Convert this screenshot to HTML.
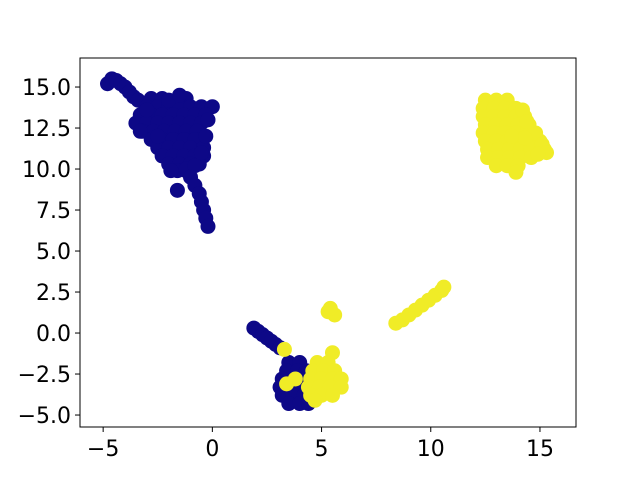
<!DOCTYPE html>
<html><head><meta charset="utf-8"><style>
body{margin:0;background:#fff}
svg{display:block;font-family:"DejaVu Sans","Liberation Sans",sans-serif}
</style></head><body>
<svg id="chart" width="640" height="480" viewBox="0 0 640 480">
<rect width="640" height="480" fill="#fff"/>
<g id="points"></g>
<rect x="80" y="58" width="496" height="369" fill="none" stroke="#000" stroke-width="1"/>
<g id="xticks"></g>
<g id="yticks"></g>
</svg>
<script>
const xTicks=[-5,0,5,10,15];
const yTicks=[15,12.5,10,7.5,5,2.5,0,-2.5,-5];
const blueX=[-4.8,-4.6,-4.4,-4.2,-4.0,-3.8,-3.6,-3.4,-3.0,
-2.8,-2.3,-1.4,-1.2,
-3.0,-2.5,-2.0,-1.5,-1.0,-0.5,0,
-3.3,-2.8,-2.3,-1.8,-1.3,-0.8,-0.3,
-3.5,-3.0,-2.5,-2.0,-1.5,-1.0,-0.5,
-3.2,-2.7,-2.2,-1.7,-1.2,-0.7,
-2.8,-2.3,-1.8,-1.3,-0.8,
-2.5,-2.0,-1.5,-1.0,-0.4,
-2.3,-1.8,-1.3,-0.8,-0.4,
-2.0,-1.5,-1.0,-0.6,
-1.6,-1.2,
-1.2,-0.8,-1.9,-2.5,-3.0,-0.3,-0.2,-0.5,-3.3,-2.0,-1.5,
-1.0,-0.8,-0.6,-0.5,-0.4,-0.3,-0.2,-1.6,
1.9,2.1,2.3,2.5,2.7,2.9,3.1,
3.5,4.0,3.4,3.9,4.3,3.2,3.7,4.2,3.1,3.6,4.1,4.5,3.2,3.7,4.2,3.5,4.0,4.4,4.8];
const blueY=[15.2,15.5,15.4,15.2,15.0,14.7,14.4,14.2,14.0,
14.3,14.3,14.3,14.3,
13.8,13.8,13.8,13.8,13.8,13.8,13.8,
13.3,13.3,13.3,13.3,13.3,13.3,13.3,
12.8,12.8,12.8,12.8,12.8,12.8,12.8,
12.3,12.3,12.3,12.3,12.3,12.3,
11.8,11.8,11.8,11.8,11.8,
11.3,11.3,11.3,11.3,11.3,
10.8,10.8,10.8,10.8,10.8,
10.3,10.3,10.3,10.3,
9.9,9.9,
10.0,10.2,9.9,12.0,13.6,12.0,13.0,11.0,12.3,14.2,14.5,
9.5,9.0,8.5,8.0,7.5,7.0,6.5,8.7,
0.3,0.1,-0.1,-0.3,-0.5,-0.7,-0.9,
-1.8,-1.8,-2.3,-2.3,-2.3,-2.8,-2.8,-2.8,-3.3,-3.3,-3.3,-3.3,-3.8,-3.8,-3.8,-4.3,-4.3,-4.3,-3.0];
const yellowX=[12.5,13.0,13.5,
12.4,12.9,13.4,13.9,
12.4,12.9,13.4,13.9,14.3,
12.5,13.0,13.5,14.0,14.5,
12.4,12.9,13.4,13.9,14.4,
12.5,13.0,13.5,14.0,14.5,15.0,
12.6,13.1,13.6,14.1,14.6,15.2,
12.6,13.1,13.6,14.1,14.6,
13.0,13.5,14.0,13.9,
14.8,15.1,15.3,14.9,14.3,13.7,14.2,14.4,
8.4,8.7,9.0,9.3,9.6,9.9,10.2,10.5,10.6,
5.3,5.6,5.4,
5.5,4.8,5.3,4.6,5.1,5.6,4.5,5.0,5.5,5.9,4.4,4.9,5.4,5.9,4.5,5.0,5.5,4.7,
3.3,3.4,3.8];
const yellowY=[14.2,14.2,14.2,
13.7,13.7,13.7,13.7,
13.2,13.2,13.2,13.2,13.2,
12.7,12.7,12.7,12.7,12.7,
12.2,12.2,12.2,12.2,12.2,
11.7,11.7,11.7,11.7,11.7,11.7,
11.2,11.2,11.2,11.2,11.2,11.2,
10.7,10.7,10.7,10.7,10.7,
10.2,10.2,10.2,9.8,
12.2,11.5,11.0,10.9,11.9,12.0,13.6,12.9,
0.6,0.8,1.1,1.4,1.7,2.0,2.3,2.6,2.8,
1.3,1.1,1.5,
-1.2,-1.8,-1.8,-2.3,-2.3,-2.3,-2.8,-2.8,-2.8,-2.8,-3.3,-3.3,-3.3,-3.3,-3.8,-3.8,-3.8,-4.1,
-1.0,-3.1,-2.8];
const NS='http://www.w3.org/2000/svg';
const X0=80,X1=576,Y0=58,Y1=427,xmin=-6.06,xmax=16.65,ymin=-5.73,ymax=16.77;
function sx(v){return X0+(v-xmin)/(xmax-xmin)*(X1-X0);}
function sy(v){return Y1-(v-ymin)/(ymax-ymin)*(Y1-Y0);}
const pg=document.getElementById('points');
function draw(xs,ys,col,name){
  for(let i=0;i<xs.length;i++){
    const c=document.createElementNS(NS,'circle');
    c.setAttribute('cx',sx(xs[i]));c.setAttribute('cy',sy(ys[i]));
    c.setAttribute('r',7.5);c.setAttribute('fill',col);
    
    
    pg.appendChild(c);
  }
}
draw(blueX,blueY,'#0d0887','blue-point');
draw(yellowX,yellowY,'#f0ec27','yellow-point');
const xg=document.getElementById('xticks');
xTicks.forEach(t=>{
  const x=sx(t);
  const l=document.createElementNS(NS,'line');
  l.setAttribute('x1',x);l.setAttribute('x2',x);l.setAttribute('y1',Y1);l.setAttribute('y2',Y1+5);l.setAttribute('stroke','#000');
  
  
  xg.appendChild(l);
  const s=document.createElementNS(NS,'text');
  s.setAttribute('x',x);s.setAttribute('y',Y1+29);s.setAttribute('text-anchor','middle');s.setAttribute('font-size','22');
  s.textContent=String(t).replace('-','\u2212');
  
  
  xg.appendChild(s);
});
const yg=document.getElementById('yticks');
yTicks.forEach(t=>{
  const y=sy(t);
  const l=document.createElementNS(NS,'line');
  l.setAttribute('x1',X0-5);l.setAttribute('x2',X0);l.setAttribute('y1',y);l.setAttribute('y2',y);l.setAttribute('stroke','#000');
  
  
  yg.appendChild(l);
  const s=document.createElementNS(NS,'text');
  s.setAttribute('x',X0-9);s.setAttribute('y',y+8);s.setAttribute('text-anchor','end');s.setAttribute('font-size','22');
  s.textContent=t.toFixed(1).replace('-','\u2212');
  
  
  yg.appendChild(s);
});
</script>
</body></html>
